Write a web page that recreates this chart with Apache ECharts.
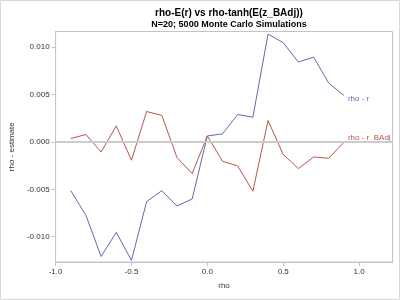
<!DOCTYPE html>
<html><head><meta charset="utf-8">
<script src="https://cdn.jsdelivr.net/npm/echarts@6/dist/echarts.min.js"></script>
<style>html,body{margin:0;padding:0;background:#fff}#c{width:400px;height:300px}</style>
</head><body><div id="c"></div>
<script>
var rho = [-0.9,-0.8,-0.7,-0.6,-0.5,-0.4,-0.3,-0.2,-0.1,0.0,0.1,0.2,0.3,0.4,0.5,0.6,0.7,0.8,0.9];
var rhoMinusR = [-0.00514,-0.00775,-0.01208,-0.00954,-0.01250,-0.00630,-0.00514,-0.00676,-0.00602,0.00063,0.00085,0.00289,0.00261,0.01138,0.01047,0.00842,0.00895,0.00620,0.00490];
var rhoMinusRBAdj = [0.00036,0.00078,-0.00106,0.00169,-0.00193,0.00321,0.00279,-0.00165,-0.00334,0.00063,-0.00204,-0.00254,-0.00521,0.00226,-0.00133,-0.00281,-0.00159,-0.00172,-0.00004];
var seriesNames = ['rho - r', 'rho - r_BAdj'];
var titleText = 'rho-E(r) vs rho-tanh(E(z_BAdj))';
var subtitleText = 'N=20; 5000 Monte Carlo Simulations';

function pairs(xs, ys){ return xs.map(function(x,i){ return [x, ys[i]]; }); }
var font = 'Arial, "Liberation Sans", sans-serif';
var chart = echarts.init(document.getElementById('c'), null, {renderer:'canvas'});
chart.setOption({
  animation:false,
  backgroundColor:'#fff',
  title:[
    {text:titleText, left:224, top:3, textAlign:'center',
     textStyle:{fontFamily:font, fontSize:10, fontWeight:'bold', color:'#000'}},
    {text:subtitleText, left:224, top:15, textAlign:'center',
     textStyle:{fontFamily:font, fontSize:9, fontWeight:'bold', color:'#000'}}
  ],
  graphic:[{type:'rect', shape:{x:0.5,y:0.5,width:399,height:299}, style:{fill:'none', stroke:'#d8d8d8', lineWidth:1}, silent:true}],
  grid:{left:55, right:7.5, top:31.5, bottom:38, show:true, borderColor:'#c4c4c4', borderWidth:1},
  xAxis:{type:'value', min:-1.0, max:1.22, interval:0.5,
    name:'rho', nameLocation:'middle', nameGap:20,
    nameTextStyle:{fontFamily:font, fontSize:8, color:'#333'},
    axisLine:{show:true, onZero:false, lineStyle:{color:'#c4c4c4'}},
    axisTick:{show:true, length:4, lineStyle:{color:'#c4c4c4'}},
    axisLabel:{fontFamily:font, fontSize:8, color:'#333', margin:6, showMaxLabel:false,
      formatter:function(v){ var r=Math.round(v*2)/2; return Math.abs(v-r)<1e-6 ? v.toFixed(1) : ''; }},
    splitLine:{show:false}},
  yAxis:{type:'value', min:-0.01267, max:0.01165, splitNumber:5,
    name:'rho - estimate', nameLocation:'middle', nameGap:38,
    nameTextStyle:{fontFamily:font, fontSize:8, color:'#333'},
    axisLine:{show:true, onZero:false, lineStyle:{color:'#c4c4c4'}},
    axisTick:{show:true, length:4, lineStyle:{color:'#c4c4c4'}},
    axisLabel:{fontFamily:font, fontSize:8, color:'#333', margin:6, showMinLabel:false, showMaxLabel:false,
      formatter:function(v){ var r=Math.round(v/0.005)*0.005; return Math.abs(v-r)<1e-7 ? v.toFixed(3) : ''; }},
    splitLine:{show:false}},
  series:[
    {name:seriesNames[0], type:'line', data:pairs(rho, rhoMinusR), showSymbol:false, symbol:'none',
     lineStyle:{color:'#5d6cab', width:1}, itemStyle:{color:'#5d6cab'},
     endLabel:{show:true, formatter:seriesNames[0], distance:4, offset:[0,3], fontFamily:font, fontSize:8, color:'#5d6cab'},
     markLine:{silent:true, symbol:'none', label:{show:false}, lineStyle:{color:'#cccccc', width:2, type:'solid'}, data:[{yAxis:0}]},
     z:3},
    {name:seriesNames[1], type:'line', data:pairs(rho, rhoMinusRBAdj), showSymbol:false, symbol:'none',
     lineStyle:{color:'#b5574d', width:1}, itemStyle:{color:'#b5574d'},
     endLabel:{show:true, formatter:seriesNames[1], distance:4, offset:[0,-4], fontFamily:font, fontSize:8, color:'#b5574d'},
     z:3}
  ]
});
</script></body></html>
